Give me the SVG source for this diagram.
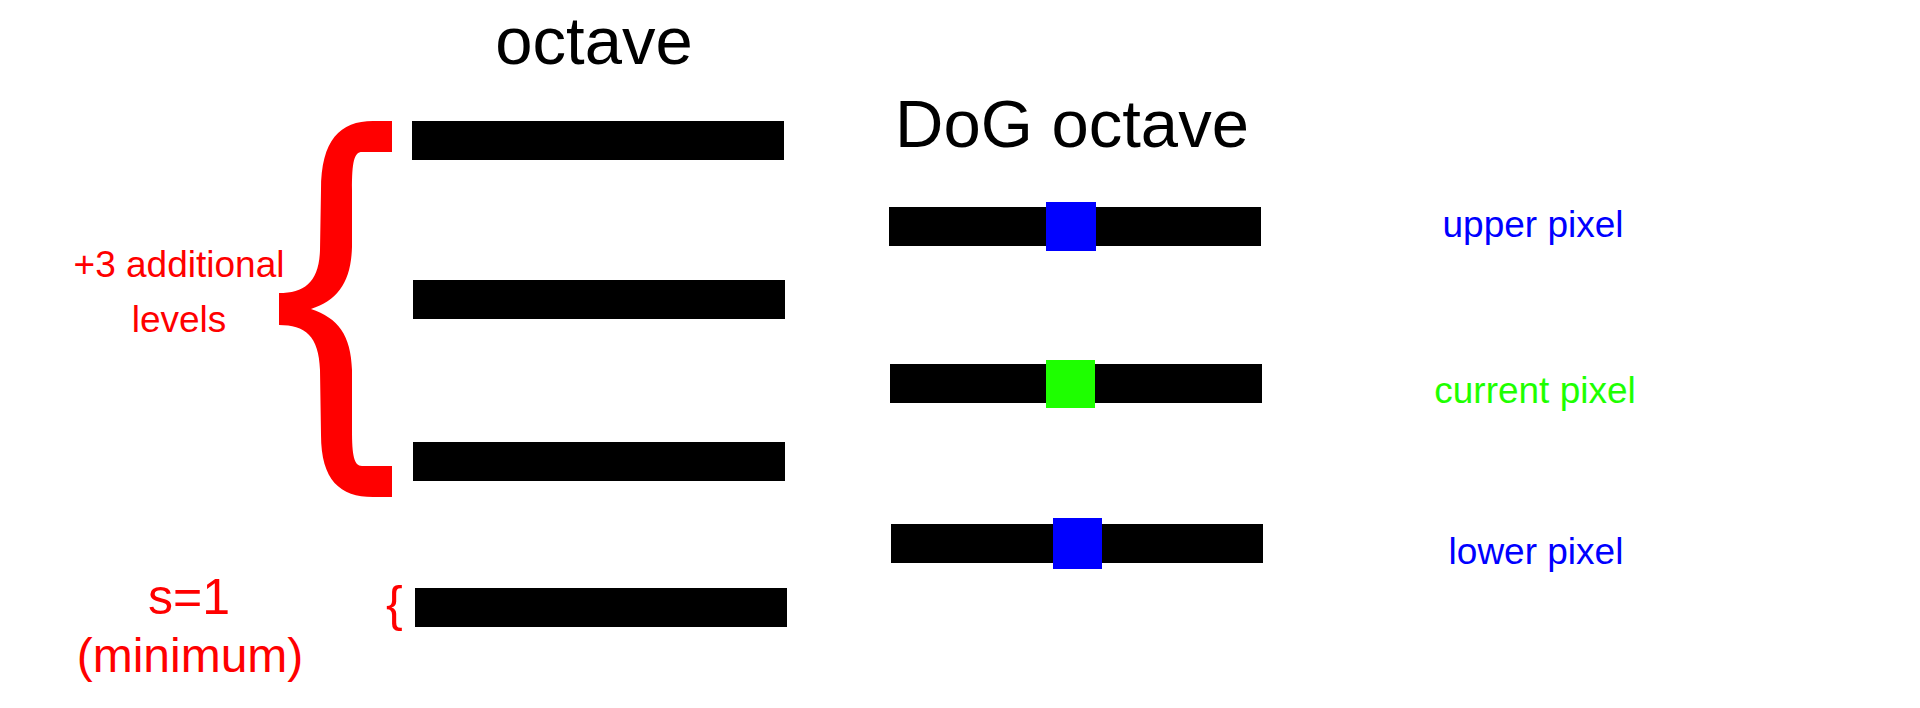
<svg xmlns="http://www.w3.org/2000/svg" width="1920" height="708" viewBox="0 0 1920 708">
<style>
  text { font-family: "Liberation Sans", Arial, sans-serif; }
  .title { font-size: 67px; fill: #000; text-anchor: middle; }
  .red { fill: #ff0000; }
  .lbl { font-size: 37px; text-anchor: middle; }
  .bar { fill: #000; }
  .blue { fill: #0000ff; }
  .green { fill: #1eff00; }
</style>
<rect width="1920" height="708" fill="#fff"/>

<g id="octave-title"><text class="title" x="594" y="64">octave</text></g>
<g id="dog-title"><text class="title" x="1072" y="147">DoG octave</text></g>

<g id="octave-level-1"><rect class="bar" x="412" y="121" width="372" height="39"/></g>
<g id="octave-level-2"><rect class="bar" x="413" y="280" width="372" height="39"/></g>
<g id="octave-level-3"><rect class="bar" x="413" y="442" width="372" height="39"/></g>
<g id="octave-level-base"><rect class="bar" x="415" y="588" width="372" height="39"/></g>

<g id="big-brace">
  <path class="red" d="M392,121 L373,121 C340,121 321,140 321,190 L320,250 C319,282 305,293 279,293 L279,325 C305,325 319,336 320,370 L321,435 C321,480 340,497 373,497 L392,497 L392,466 L362,466 C354,466 352,455 352,430 L352,370 C351,335 338,318 311,309 C338,300 351,282 352,247 L352,190 C352,162 354,152 362,152 L392,152 Z"/>
</g>
<g id="additional-label">
  <text class="red lbl" x="179" y="277">+3 additional</text>
  <text class="red lbl" x="179" y="332">levels</text>
</g>

<g id="small-brace"><text class="red" x="386" y="621" font-size="50">{</text></g>
<g id="minimum-label">
  <text class="red" x="189" y="614" font-size="50" text-anchor="middle">s=1</text>
  <text class="red" x="190" y="672" font-size="48" text-anchor="middle">(minimum)</text>
</g>

<g id="dog-upper">
  <rect class="bar" x="889" y="207" width="372" height="39"/>
  <rect class="blue" x="1046" y="202" width="50" height="49"/>
</g>
<g id="dog-current">
  <rect class="bar" x="890" y="364" width="372" height="39"/>
  <rect class="green" x="1046" y="360" width="49" height="48"/>
</g>
<g id="dog-lower">
  <rect class="bar" x="891" y="524" width="372" height="39"/>
  <rect class="blue" x="1053" y="518" width="49" height="51"/>
</g>

<g id="upper-label"><text class="lbl blue" x="1533" y="237">upper pixel</text></g>
<g id="current-label"><text class="lbl green" x="1535" y="403">current pixel</text></g>
<g id="lower-label"><text class="lbl blue" x="1536" y="564">lower pixel</text></g>

<g id="connectors"></g>
</svg>
